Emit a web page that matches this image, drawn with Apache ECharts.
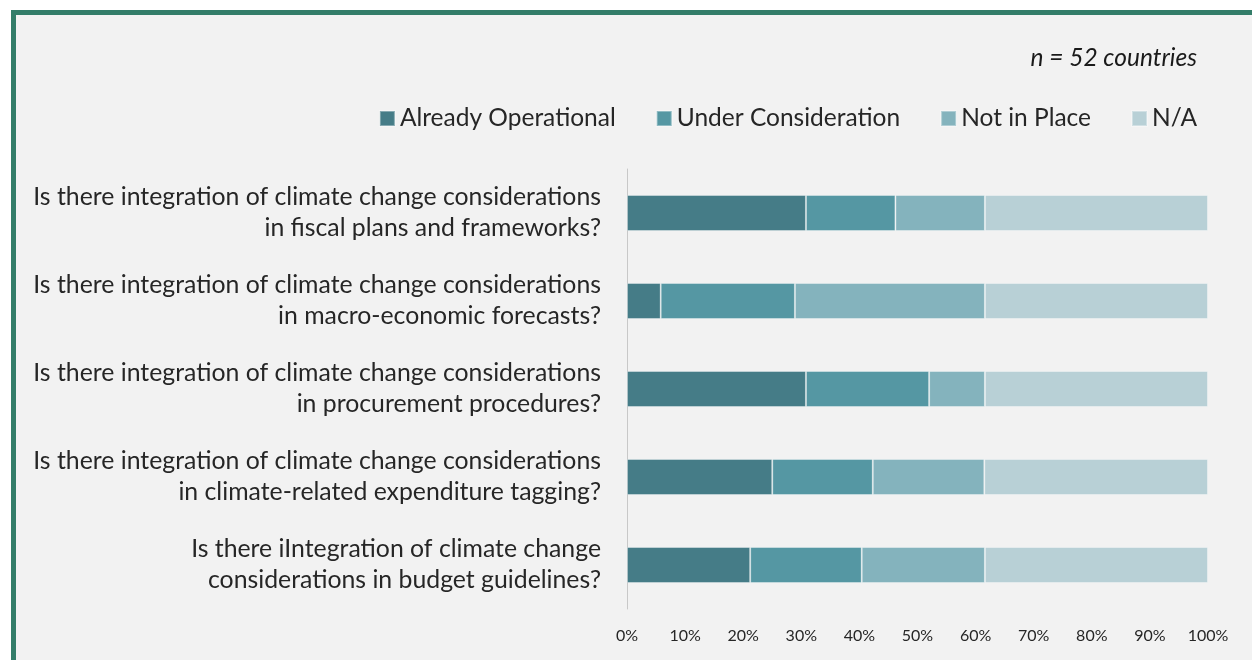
<!DOCTYPE html>
<html>
<head>
<meta charset="utf-8">
<script src="https://cdn.jsdelivr.net/npm/echarts@6/dist/echarts.min.js"></script>
<style>
  html, body { margin: 0; padding: 0; background: #ffffff; }
  #frame {
    position: absolute; left: 11px; top: 10px;
    width: 1300px; height: 700px;
    border: 5px solid #337d69;
    background: #f2f2f2;
  }
  #main { position: absolute; left: 0; top: 0; width: 1252px; height: 660px; }
</style>
</head>
<body>
<div id="frame"></div>
<div id="main"></div>
<script>
// questions, top to bottom
var questions = [
  'Is there integration of climate change considerations\nin fiscal plans and frameworks?',
  'Is there integration of climate change considerations\nin macro-economic forecasts?',
  'Is there integration of climate change considerations\nin procurement procedures?',
  'Is there integration of climate change considerations\nin climate-related expenditure tagging?',
  'Is there iIntegration of climate change\nconsiderations in budget guidelines?'
];

// shares in % (n = 52 countries)
var alreadyOperational = [30.8, 5.8, 30.8, 25.0, 21.2];
var underConsideration = [15.4, 23.1, 21.2, 17.3, 19.2];
var notInPlace         = [15.4, 32.7, 9.6, 19.2, 21.2];
var notApplicable      = [38.4, 38.4, 38.4, 38.5, 38.4];

var seriesNames  = ['Already Operational', 'Under Consideration', 'Not in Place', 'N/A'];
var seriesColors = ['#457c87', '#5597a3', '#84b3bd', '#b8d0d6'];
var seriesData   = [alreadyOperational, underConsideration, notInPlace, notApplicable];

var font = 'Lato, "Open Sans", sans-serif';

var myChart = echarts.init(document.getElementById('main'));

var series = seriesNames.map(function (name, i) {
  return {
    name: name,
    type: 'bar',
    stack: 'total',
    barWidth: 36,
    data: seriesData[i],
    itemStyle: {
      color: seriesColors[i],
      borderColor: 'rgba(255,255,255,0.35)',
      borderWidth: 1
    }
  };
});

myChart.setOption({
  backgroundColor: 'transparent',
  animation: false,
  title: {
    text: 'n = 52 countries',
    right: 50,
    top: 41,
    textStyle: { fontFamily: font, fontSize: 24.5, fontStyle: 'italic', fontWeight: 'normal', color: '#1a1a1a' }
  },
  legend: {
    data: seriesNames,
    right: 50,
    top: 101,
    icon: 'rect',
    itemWidth: 15,
    itemHeight: 15,
    itemGap: 40,
    textStyle: { fontFamily: font, fontSize: 24.5, color: '#262626' }
  },
  grid: { left: 627, right: 44, top: 169, bottom: 51, containLabel: false },
  xAxis: {
    type: 'value',
    min: 0,
    max: 100,
    interval: 10,
    axisLine: { show: false },
    axisTick: { show: false },
    splitLine: { show: false },
    axisLabel: {
      formatter: '{value}%',
      margin: 19,
      fontFamily: font,
      fontSize: 16,
      color: '#262626'
    }
  },
  yAxis: {
    type: 'category',
    inverse: true,
    data: questions,
    axisLine: { show: true, lineStyle: { color: '#c8c8c8', width: 1 } },
    axisTick: { show: false },
    axisLabel: {
      margin: 26,
      align: 'right',
      lineHeight: 31,
      fontFamily: font,
      fontSize: 24.8,
      color: '#262626'
    }
  },
  series: series
});
</script>
</body>
</html>
